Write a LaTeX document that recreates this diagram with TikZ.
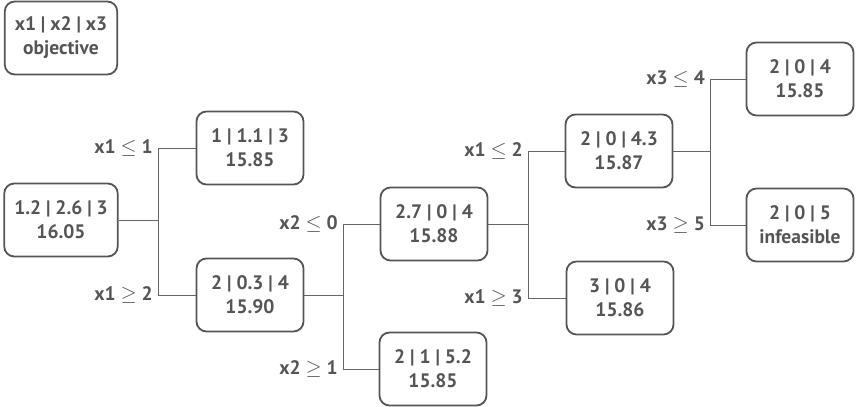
\documentclass[tikz,border=0pt]{standalone}
\usepackage{fontspec}
\setmainfont{PT Sans}
\definecolor{boxgray}{HTML}{555555}
\definecolor{linegray}{HTML}{666666}
\tikzset{
  bnode/.style={draw=boxgray, line width=1.8pt, rounded corners=10pt, text=boxgray,
    minimum width=107pt, minimum height=73pt, inner xsep=10pt, align=center,
    font=\fontsize{19.5}{24}\selectfont\bfseries},
  blabel/.style={anchor=east, text=boxgray, inner sep=0pt, xshift=-5pt,
    font=\fontsize{19.5}{24}\selectfont\bfseries},
  bline/.style={draw=linegray, line width=1pt}
}
\begin{document}
\begin{tikzpicture}[x=1pt, y=-1pt]

\useasboundingbox (0,0) rectangle (865,407);

\node[bnode] (key) at (61,38) {x1 | x2 | x3\\objective};

\node[bnode] (root) at (61,220) {1.2 | 2.6 | 3\\16.05};
\node[bnode] (n1) at (250,148) {1 | 1.1 | 3\\15.85};
\node[bnode] (n2) at (250,295) {2 | 0.3 | 4\\15.90};
\node[bnode] (n21) at (434,224) {2.7 | 0 | 4\\15.88};
\node[bnode] (n22) at (433,369) {2 | 1 | 5.2\\15.85};
\node[bnode] (n211) at (619,151) {2 | 0 | 4.3\\15.87};
\node[bnode] (n212) at (620,298) {3 | 0 | 4\\15.86};
\node[bnode] (n2111) at (800,79) {2 | 0 | 4\\15.85};
\node[bnode] (n2112) at (800,225) {2 | 0 | 5\\infeasible};

% branch points
\coordinate (b0) at (158,220);
\coordinate (b2) at (343,295);
\coordinate (b21) at (528,224);
\coordinate (b211) at (710,151);

\draw[bline] (root.east) -- (b0);
\draw[bline] (b0) |- (n1.west);
\draw[bline] (b0) |- (n2.west);
\draw[bline] (n2.east) -- (b2);
\draw[bline] (b2) |- (n21.west);
\draw[bline] (b2) |- (n22.west);
\draw[bline] (n21.east) -- (b21);
\draw[bline] (b21) |- (n211.west);
\draw[bline] (b21) |- (n212.west);
\draw[bline] (n211.east) -- (b211);
\draw[bline] (b211) |- (n2111.west);
\draw[bline] (b211) |- (n2112.west);

\node[blabel] (l1) at (b0 |- n1.west) {x1 $\leq$ 1};
\node[blabel] (l2) at (b0 |- n2.west) {x1 $\geq$ 2};
\node[blabel] (l21) at (b2 |- n21.west) {x2 $\leq$ 0};
\node[blabel] (l22) at (b2 |- n22.west) {x2 $\geq$ 1};
\node[blabel] (l211) at (b21 |- n211.west) {x1 $\leq$ 2};
\node[blabel] (l212) at (b21 |- n212.west) {x1 $\geq$ 3};
\node[blabel] (l2111) at (b211 |- n2111.west) {x3 $\leq$ 4};
\node[blabel] (l2112) at (b211 |- n2112.west) {x3 $\geq$ 5};

\end{tikzpicture}
\end{document}
